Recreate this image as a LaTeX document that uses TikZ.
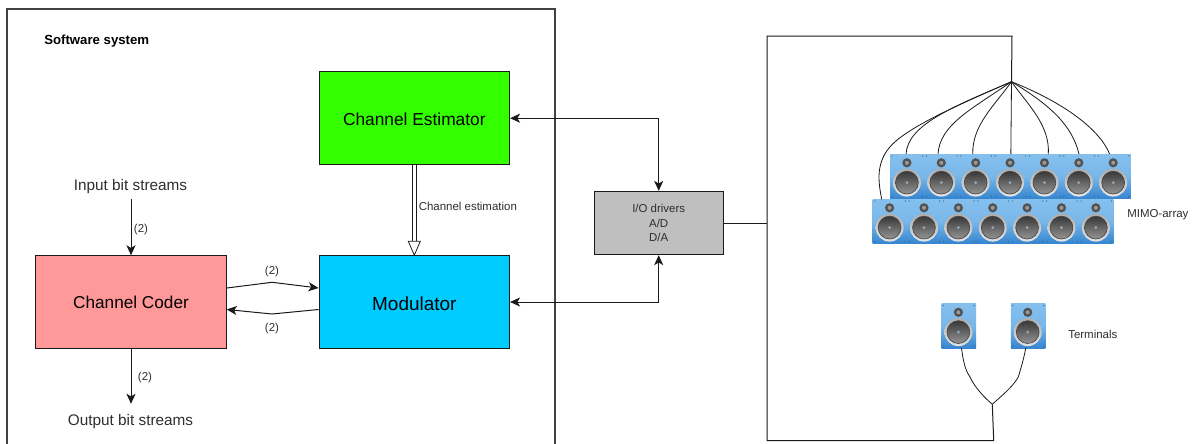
\documentclass[tikz,border=0pt]{standalone}
\usepackage{fontspec}
\setmainfont{Liberation Sans}
\usetikzlibrary{arrows.meta,calc}
\definecolor{blk}{HTML}{1A1A1A}
\definecolor{spklight}{HTML}{85C0EE}
\definecolor{spkdark}{HTML}{3585CF}
\definecolor{txt}{HTML}{2E2E2E}
\tikzset{
  x=0.75pt,y=-0.75pt,
  lab/.style={inner sep=0pt,text=txt,font=\fontsize{8.6}{10.7}\selectfont,align=center},
  bits/.style={inner sep=0pt,text=txt,font=\fontsize{11.5}{13}\selectfont},
  blockbox/.style={draw=blk,line width=.75pt,minimum width=142.9pt,minimum height=69.4pt,inner sep=0pt,text=black,align=center},
  arr/.style={draw=blk,line width=0.75pt,-{Stealth[length=7.5pt,width=6.8pt,inset=2pt]}},
  darr/.style={draw=blk,line width=0.75pt,{Stealth[length=7.5pt,width=6.8pt,inset=2pt]}-{Stealth[length=7.5pt,width=6.8pt,inset=2pt]}},
  wire/.style={draw=blk,line width=0.6pt},
  pics/speaker/.style={code={
    \shade[top color=spklight,bottom color=spkdark,middle color=spklight!85!spkdark] (0,0) rectangle (34.6,44.5);
    \fill[spkdark!80!black] (2,2) circle (.7) (32.6,2) circle (.7) (2,42.5) circle (.7) (32.6,42.5) circle (.7);
    \fill[black!68] (16.9,8.8) circle (4.6);
    \fill[black!40] (16.9,8.8) circle (2);
    \shade[top color=black!32,bottom color=black!10] (16.9,28.6) circle (14);
    \shade[top color=black!78,bottom color=black!42] (16.9,28.6) circle (11.4);
    \draw[black!72,line width=0.5pt] (16.9,28.6) circle (11.4);
    \fill[spklight!60!black!60] (16.9,28.6) circle (1.5);
    \coordinate (-top) at (16,0);
    \coordinate (-bot) at (20,44.5);
    \coordinate (-botl) at (14.9,44.5);
  }}
}
\begin{document}
\begin{tikzpicture}
\useasboundingbox (0,0) rectangle (1192,443);
\begin{scope}
\clip (0,0) rectangle (1192,443);
% software system frame
\draw[black!75,line width=1.1pt] (7,450) -- (7,9) -- (555,9) -- (555,450);
\node[inner sep=0pt,anchor=west,text=black,font=\fontsize{9.9}{11}\selectfont\bfseries] (sw) at (44,41) {Software system};

% blocks
\node[blockbox,fill={rgb,255:red,51;green,255;blue,0},font=\fontsize{13}{15}\selectfont] (est) at (414.3,118.2) {\raisebox{-.7pt}[\height][\depth]{Channel Estimator}};
\node[blockbox,fill={rgb,255:red,0;green,204;blue,255},font=\fontsize{14.2}{16}\selectfont] (mod) at (414.3,302) {\raisebox{-1.2pt}[\height][\depth]{Modulator}};
\node[blockbox,fill={rgb,255:red,255;green,153;blue,153},font=\fontsize{12.9}{15}\selectfont] (cc) at (131,302) {Channel Coder};
\node[draw=blk,line width=.75pt,fill=black!25,minimum width=97pt,minimum height=47.5pt,inner sep=0pt,lab] (io) at (658.7,223) {I/O drivers\\A/D\\D/A};

% bit streams
\node[bits] (inb) at (130.5,187) {Input bit streams};
\node[bits] (outb) at (130.5,422) {Output bit streams};
\draw[arr] ($(cc.north)+(0,-56)$) -- (cc.north);
\draw[arr] (cc.south) -- ($(cc.south)+(0,55)$);
\node[lab] (l1) at (141,229.5) {(2)};
\node[lab] (l2) at (145,378) {(2)};

% coder <-> modulator
\coordinate (u1) at (272,282.3);
\coordinate (u2) at (272,314);
\draw[arr] ($(cc.east)+(0,-14)$) -- (u1) -- ($(mod.west)+(0,-14)$);
\draw[arr] ($(mod.west)+(0,7.5)$) -- (u2) -- ($(cc.east)+(0,7.5)$);
\node[lab] (l3) at (272,272) {(2)};
\node[lab] (l4) at (272,329) {(2)};

% channel estimation
\coordinate (tri) at ($(mod.north)+(0,-14)$);
\draw[wire] ($(est.south)+(-2.2,0)$) -- ($(tri)+(-2.2,0)$);
\draw[wire] ($(est.south)+(2.2,0)$) -- ($(tri)+(2.2,0)$);
\draw[blk,line width=.6pt,fill=white,line join=miter] ($(tri)+(-6,0)$) -- (mod.north) -- ($(tri)+(6,0)$) -- cycle;
\node[lab,anchor=west] (l5) at (418.5,206.5) {Channel estimation};

% I/O connections
\draw[darr] (est.east) -| (io.north);
\draw[darr] (mod.east) -| (io.south);

% bus rectangle
\coordinate (hub) at (1011.5,81.7);
\coordinate (jn) at (992.3,404.3);
\coordinate (busl) at (767,223);
\draw[wire] (io.east) -- (busl);
\draw[blk,line width=.75pt] (hub) -- (1012,36) -- (767,36) -- (767,440.5) -- (993.7,440.5) -- (jn);

% speakers
\foreach \i in {0,...,6} {
  \pic (a\i) at ({890+34.38*\i},154) {speaker};
}
\foreach \i in {0,...,6} {
  \pic (b\i) at ({872.7+34.38*\i},199) {speaker};
}
\pic (t1) at (941.5,303.5) {speaker};
\pic (t2) at (1010.8,303.5) {speaker};
\node[lab,anchor=west] (mimo) at (1127,214.5) {MIMO-array};
\node[lab,anchor=west] (term) at (1068,334.5) {Terminals};

% fan-out wires
\draw[wire] (hub) .. controls (960,104) and (905,128) .. (889,148) .. controls (875,165) and (879,185) .. (881.7,199.3);
\draw[wire] (hub) .. controls (950,108) and (908,125) .. (a0-top);
\draw[wire] (hub) .. controls (970,110) and (940,125) .. ($(a1-top)+(-2.4,0)$);
\draw[wire] (hub) .. controls (995,105) and (972,125) .. ($(a2-top)+(-2,0)$);
\draw[wire] (hub) -- ($(a3-top)+(1.7,0)$);
\draw[wire] (hub) .. controls (1028,105) and (1050,125) .. ($(a4-top)+(4.8,0)$);
\draw[wire] (hub) .. controls (1050,105) and (1072,125) .. ($(a5-top)+(1.1,0)$);
\draw[wire] (hub) .. controls (1065,103) and (1100,130) .. ($(a6-top)+(-2.7,0)$);
\draw[wire] (t1-bot) .. controls (963,360) and (965,370) .. (970,377) .. controls (975,388) and (985,398) .. (jn);
\draw[wire] (jn) .. controls (1000,397) and (1012,388) .. (1018.3,377) .. controls (1021,368) and (1024,358) .. (t2-botl);
\end{scope}
\end{tikzpicture}
\end{document}
